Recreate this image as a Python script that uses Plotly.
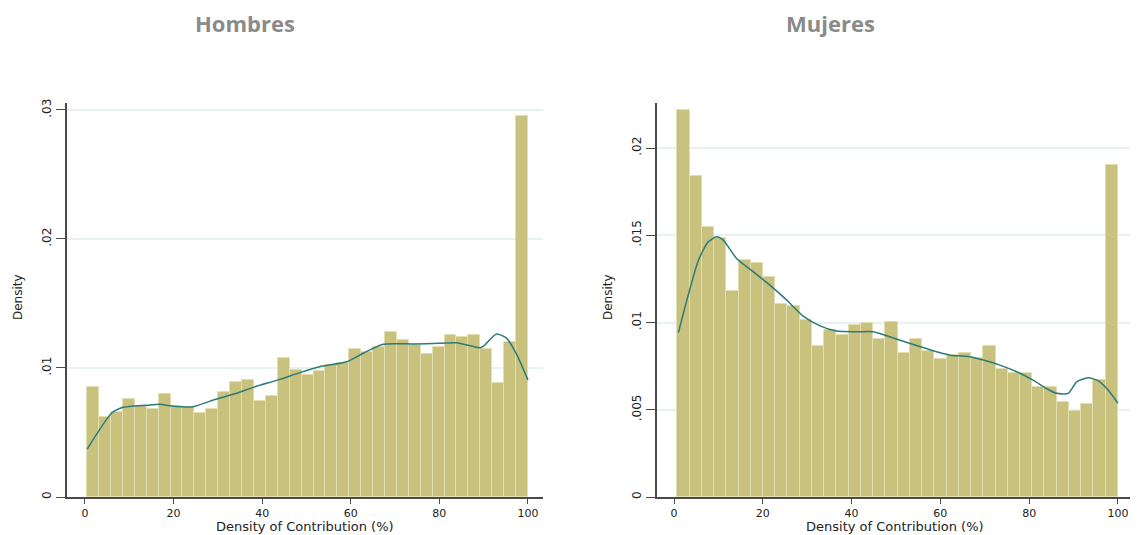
import plotly.graph_objects as go

# ---------------- data ----------------
# Hombres histogram (37 bins over 0.5..100)
h_start = 0.5
h_width = 99.5 / 37
h_density = [0.00850, 0.00623, 0.00661, 0.00757, 0.00705, 0.00680, 0.00798, 0.00705,
             0.00695, 0.00649, 0.00680, 0.00811, 0.00894, 0.00907, 0.00747, 0.00786,
             0.01080, 0.00984, 0.00946, 0.00978, 0.01020, 0.01038, 0.01148, 0.01127,
             0.01165, 0.01280, 0.01215, 0.01180, 0.01105, 0.01165, 0.01256, 0.01238,
             0.01256, 0.01150, 0.00880, 0.01200, 0.02953]
h_kde_x = [0.5, 6.0, 8.6, 10.9, 13.9, 16.9, 19.6, 24.4, 29.0, 34.2, 38.0, 44.0, 48.5,
           53.0, 59.1, 62.8, 67.3, 74.1, 80.1, 83.9, 89.2, 90.0, 92.9, 95.2, 97.5, 100.0]
h_kde_y = [0.00372, 0.00649, 0.00695, 0.00705, 0.00711, 0.00718, 0.00705, 0.00700,
           0.00752, 0.00804, 0.00850, 0.00912, 0.00964, 0.01010, 0.01049, 0.01114,
           0.01184, 0.01186, 0.01191, 0.01196, 0.01157, 0.01170, 0.01264, 0.01230,
           0.01101, 0.00907]

# Mujeres histogram (36 bins over 0.75..100)
m_start = 0.75
m_width = 99.25 / 36
m_density = [0.02220, 0.01842, 0.01548, 0.01487, 0.01182, 0.01357, 0.01342, 0.01262,
             0.01105, 0.01094, 0.01014, 0.00867, 0.00956, 0.00928, 0.00983, 0.00995,
             0.00907, 0.01004, 0.00827, 0.00905, 0.00838, 0.00789, 0.00813, 0.00827,
             0.00794, 0.00867, 0.00731, 0.00708, 0.00708, 0.00632, 0.00632, 0.00542,
             0.00493, 0.00533, 0.00670, 0.01901]
m_kde_x = [1.0, 2.9, 5.5, 7.7, 9.6, 11.1, 14.1, 17.9, 21.6, 25.4, 29.1, 32.9, 36.6, 41.1,
           44.9, 48.6, 53.2, 58.4, 62.2, 65.9, 69.7, 73.4, 77.2, 80.9, 83.9, 86.2, 88.8,
           90.7, 93.3, 95.6, 97.8, 100.0]
m_kde_y = [0.00943, 0.01128, 0.01357, 0.01462, 0.01491, 0.01472, 0.01367, 0.01290,
           0.01214, 0.01128, 0.01037, 0.00981, 0.00951, 0.00947, 0.00947, 0.00918,
           0.00880, 0.00838, 0.00813, 0.00807, 0.00785, 0.00756, 0.00718, 0.00670,
           0.00622, 0.00594, 0.00594, 0.00660, 0.00683, 0.00666, 0.00613, 0.00537]

titles = ["Hombres", "Mujeres"]
x_ticks = [0, 20, 40, 60, 80, 100]
h_yticks = [0, 0.01, 0.02, 0.03]
h_ylabels = ["0", ".01", ".02", ".03"]
m_yticks = [0, 0.005, 0.01, 0.015, 0.02]
m_ylabels = ["0", ".005", ".01", ".015", ".02"]
x_title = "Density of Contribution (%)"
y_title = "Density"

# ---------------- styles ----------------
BAR = "#c9c27f"
BAR_EDGE = "#e2deb0"
LINE = "#2b7b78"
AXIS = "#4a4a4a"
GRID = "#e8f1f2"
OFF = 8                      # page body margin
W, H = 1138 - OFF, 535 - OFF

fig = go.Figure()

def centers(start, width, n):
    return [start + width * (i + 0.5) for i in range(n)]

fig.add_trace(go.Bar(x=centers(h_start, h_width, len(h_density)), y=h_density,
                     width=h_width, marker=dict(color=BAR, line=dict(color=BAR_EDGE, width=1)),
                     xaxis="x", yaxis="y", showlegend=False))
fig.add_trace(go.Scatter(x=h_kde_x, y=h_kde_y, mode="lines",
                         line=dict(color=LINE, width=1.5, shape="spline", smoothing=0.6),
                         xaxis="x", yaxis="y", showlegend=False))
fig.add_trace(go.Bar(x=centers(m_start, m_width, len(m_density)), y=m_density,
                     width=m_width, marker=dict(color=BAR, line=dict(color=BAR_EDGE, width=1)),
                     xaxis="x2", yaxis="y2", showlegend=False))
fig.add_trace(go.Scatter(x=m_kde_x, y=m_kde_y, mode="lines",
                         line=dict(color=LINE, width=1.5, shape="spline", smoothing=0.6),
                         xaxis="x2", yaxis="y2", showlegend=False))

def px_x(p):
    return (p - OFF) / W

def px_y(p):
    return (H - (p - OFF)) / H

ydom = [px_y(497), px_y(103)]
xtickfont = dict(family="DejaVu Sans", size=11, color="#222222")
ytickfont = dict(family="DejaVu Sans", size=12, color="#222222")

xcommon = dict(tickmode="array", tickvals=x_ticks, ticktext=[str(t) for t in x_ticks],
               showgrid=False, zeroline=False, showline=True, linecolor=AXIS, linewidth=1.5,
               ticks="outside", ticklen=5, tickcolor=AXIS, tickwidth=1.2, tickfont=xtickfont,
               automargin=False)
ycommon = dict(showgrid=True, gridcolor=GRID, gridwidth=1.5, zeroline=False, showline=True,
               linecolor=AXIS, linewidth=1.5, ticks="outside", ticklen=9, tickcolor=AXIS,
               tickwidth=1.2, tickangle=-90, tickfont=ytickfont, domain=ydom, automargin=False)

fig.update_layout(
    width=W, height=H, margin=dict(l=0, r=0, t=0, b=0, autoexpand=False),
    paper_bgcolor="white", plot_bgcolor="white", bargap=0,
    xaxis=dict(domain=[px_x(67), px_x(543)], range=[-4.06, 103.4], anchor="y", **xcommon),
    yaxis=dict(range=[0, 0.03054], anchor="x", tickmode="array", tickvals=h_yticks,
               ticktext=h_ylabels, **ycommon),
    xaxis2=dict(domain=[px_x(657), px_x(1133)], range=[-3.83, 103.4], anchor="y2", **xcommon),
    yaxis2=dict(range=[0, 0.02258], anchor="x2", tickmode="array", tickvals=m_yticks,
                ticktext=m_ylabels, **ycommon),
)

annots = []
for t, cx in zip(titles, [245, 830]):
    annots.append(dict(text=f"<b>{t}</b>", x=px_x(cx), y=px_y(23), xref="paper", yref="paper",
                       showarrow=False, xanchor="center", yanchor="middle",
                       font=dict(family="Open Sans", size=22, color="#8a8a8a")))
for cx in [305, 895]:
    annots.append(dict(text=x_title, x=px_x(cx), y=px_y(526), xref="paper", yref="paper",
                       showarrow=False, xanchor="center", yanchor="middle",
                       font=dict(family="DejaVu Sans", size=13, color="#222222")))
for cx in [18, 608]:
    annots.append(dict(text=y_title, x=px_x(cx), y=px_y(297), xref="paper", yref="paper",
                       showarrow=False, xanchor="center", yanchor="middle", textangle=-90,
                       font=dict(family="DejaVu Sans", size=12, color="#222222")))
fig.update_layout(annotations=annots)

fig.write_html("out.html")
